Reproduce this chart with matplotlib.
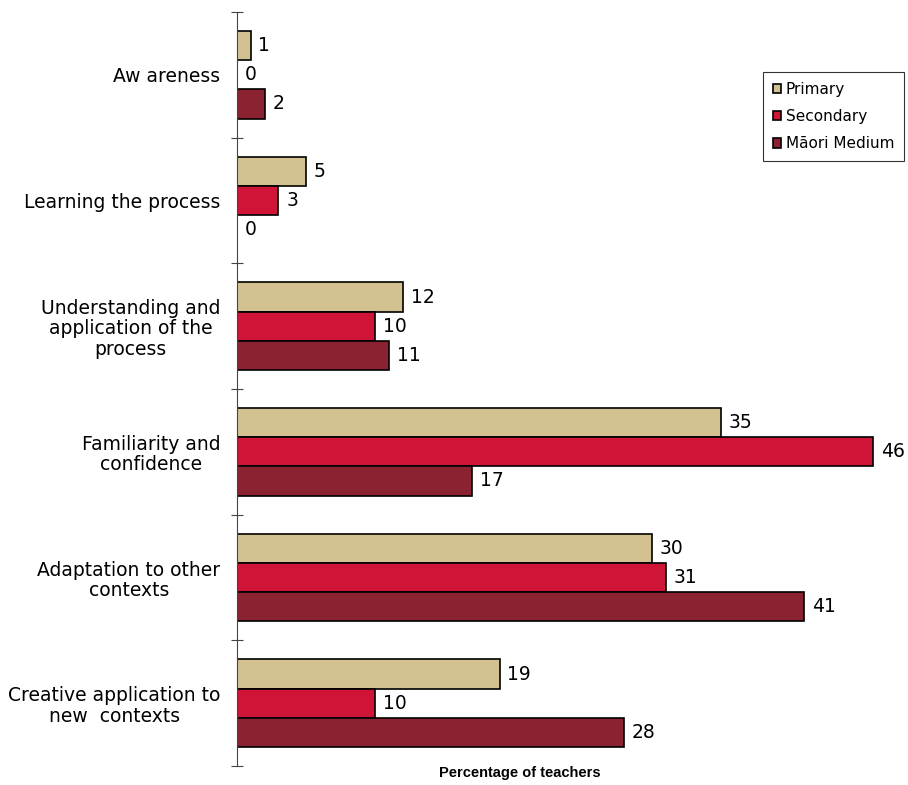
import matplotlib
matplotlib.use("Agg")
import matplotlib.pyplot as plt
import numpy as np

plt.rcParams['font.family'] = ['DejaVu Sans']

categories = ["Aw areness", "Learning the process",
              "Understanding and\napplication of the\nprocess",
              "Familiarity and\nconfidence",
              "Adaptation to other\ncontexts",
              "Creative application to\nnew  contexts"]
series_names = ["Primary", "Secondary", "Māori Medium"]
primary = [1, 5, 12, 35, 30, 19]
secondary = [0, 3, 10, 46, 31, 10]
maori = [2, 0, 11, 17, 41, 28]
colors = ["#D3C28F", "#CF1437", "#8A2232"]

fig = plt.figure(figsize=(9.08, 7.85), dpi=100)
ax = fig.add_axes([237/908, 19/785, (908-237)/908, (773-19)/785])

n = len(categories)
bh = 0.232
offsets = [-bh, 0, bh]
for vals, off, col, name in zip([primary, secondary, maori], offsets, colors, series_names):
    y = np.arange(n) + off
    ax.barh(y, vals, height=bh, color=col, edgecolor='black', linewidth=1.2, label=name)
    for yi, v in zip(y, vals):
        ax.text(v + 0.55, yi, str(v), va='center', ha='left', fontsize=13.5)

ax.set_ylim(n - 0.5, -0.5)
ax.set_xlim(0, 671/13.83)
ax.set_yticks(np.arange(n))
ax.set_yticklabels(categories, fontsize=13.5, multialignment='center', linespacing=1.1)
ax.set_yticks(np.arange(n + 1) - 0.5, minor=True)
ax.tick_params(axis='y', which='major', length=0, pad=12)
ax.tick_params(axis='y', which='minor', length=9, direction='inout', width=0.8, color='#444444')
ax.set_xticks([])
for s in ['top', 'right', 'bottom']:
    ax.spines[s].set_visible(False)
ax.spines['left'].set_linewidth(0.8)
ax.spines['left'].set_color('#444444')

fig.text(520/908, 12/785, "Percentage of teachers", ha='center', va='center',
         fontsize=10.5, fontweight='bold', family='Liberation Sans')

leg = ax.legend(loc='upper left', bbox_to_anchor=((763-237)/671, (785-72-19)/754),
                frameon=True, fancybox=False, edgecolor='black', fontsize=11,
                handlelength=0.55, handleheight=0.55, handletextpad=0.3,
                borderpad=0.65, labelspacing=0.8, borderaxespad=0)
leg.get_frame().set_linewidth(0.8)

fig.savefig("out.png", dpi=100)
